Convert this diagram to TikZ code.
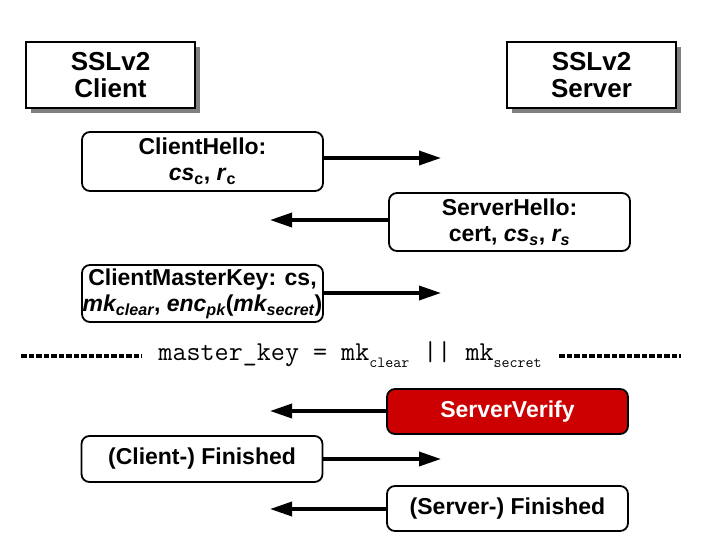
\documentclass[tikz,border=0pt]{standalone}
\usepackage{fontspec}
\setmainfont{Liberation Sans}
\usetikzlibrary{arrows.meta,shadows}
\definecolor{alertred}{RGB}{204,0,0}
\tikzset{
  peer/.style={draw=black, line width=2pt, fill=white, minimum width=169pt, minimum height=66pt,
    align=center, inner sep=0pt, font=\bfseries\fontsize{26}{27}\selectfont,
    drop shadow={shadow xshift=5pt, shadow yshift=-5pt, fill=gray, opacity=1}},
  msg/.style={draw=black, line width=1.8pt, rounded corners=8pt, fill=white, minimum width=241pt,
    align=center, inner sep=0pt, font=\bfseries\fontsize{23}{26}\selectfont},
  flow/.style={line width=3.5pt, -{Triangle[length=22pt,width=14pt]}},
  sep/.style={line width=4pt, dash pattern=on 5.5pt off 2pt}
}
\begin{document}
\begin{tikzpicture}[x=1pt,y=-1pt]
    \useasboundingbox (0,0) rectangle (701,558);

    \node[peer] (client) at (110.5,75) {SSLv2\\Client};
    \node[peer] (server) at (591.5,75) {SSLv2\\Server};

    \node[msg,minimum height=59pt] (chello) at (202.5,161.5) {ClientHello:\\\textit{cs}\textsubscript{c}, \textit{r}\textsubscript{c}};
    \node[msg,minimum height=58pt] (shello) at (509.5,222) {ServerHello:\\cert, \textit{cs\textsubscript{s}}, \textit{r\textsubscript{s}}};
    \node[msg,minimum height=57pt] (cmkey) at (202.5,293.5) {ClientMasterKey: cs,\\\textit{mk\textsubscript{clear}}, \textit{enc\textsubscript{pk}}(\textit{mk\textsubscript{secret}})};
    \node[msg,minimum height=45pt,fill=alertred,text=white] (sverify) at (507.5,411.5) {ServerVerify};
    \node[msg,minimum height=46pt] (cfin) at (202,459) {(Client-) Finished};
    \node[msg,minimum height=45pt] (sfin) at (507.5,508.5) {(Server-) Finished};

    \node[font=\ttfamily\fontsize{27.3}{28}\selectfont] (mkey) at (350,355)
      {master\_key = mk\raisebox{-7pt}{\fontsize{15.5}{15}\selectfont clear} || mk\raisebox{-7pt}{\fontsize{15.5}{15}\selectfont secret}};

    \coordinate (chelloend) at (441,158);
    \coordinate (shelloend) at (270,220);
    \coordinate (cmkeyend) at (441,293);
    \coordinate (sverifyend) at (270,411);
    \coordinate (cfinend) at (441,459);
    \coordinate (sfinend) at (270,509);
    \coordinate (sepa) at (21,356);
    \coordinate (sepb) at (142,356);
    \coordinate (sepc) at (559,356);
    \coordinate (sepd) at (681,356);

    \path [flow] (chello.east |- chelloend) edge node {} (chelloend);
    \path [flow] (shello.west |- shelloend) edge node {} (shelloend);
    \path [flow] (cmkey.east |- cmkeyend) edge node {} (cmkeyend);
    \path [flow] (sverify.west |- sverifyend) edge node {} (sverifyend);
    \path [flow] (cfin.east |- cfinend) edge node {} (cfinend);
    \path [flow] (sfin.west |- sfinend) edge node {} (sfinend);

    \path [sep] (sepa) edge node {} (sepb);
    \path [sep] (sepc) edge node {} (sepd);

 \end{tikzpicture}
\end{document}
